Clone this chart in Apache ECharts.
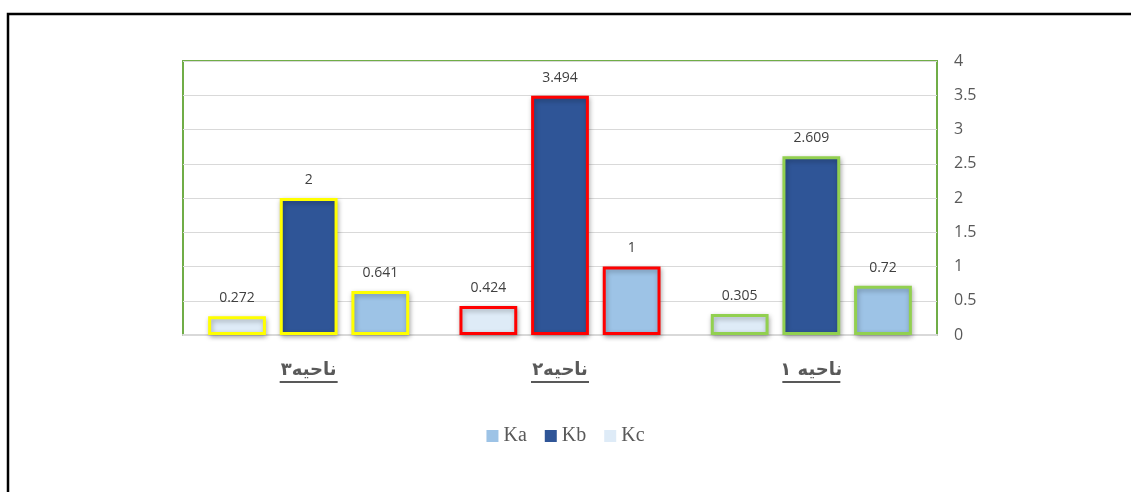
<!DOCTYPE html>
<html>
<head>
<meta charset="utf-8">
<script src="https://cdn.jsdelivr.net/npm/echarts@6/dist/echarts.min.js"></script>
<style>html,body{margin:0;padding:0;background:#fff}#c{width:1131px;height:492px}</style>
</head>
<body>
<div id="c"></div>
<script>
const categories = ['ناحیه ۱', 'ناحیه۲', 'ناحیه۳'];
const seriesNames = ['Ka', 'Kb', 'Kc'];
const kaValues = [0.72, 1, 0.641];
const kbValues = [2.609, 3.494, 2];
const kcValues = [0.305, 0.424, 0.272];
const yTicks = [0, 0.5, 1, 1.5, 2, 2.5, 3, 3.5, 4];

const seriesColors = { Ka: '#9DC3E6', Kb: '#2F5597', Kc: '#DEEBF7' };
const categoryBorders = ['#92D050', '#FF0000', '#FFFF00'];

const valuesByName = { Ka: kaValues, Kb: kbValues, Kc: kcValues };

function makeSeries(name) {
  return {
    name: name,
    type: 'bar',
    barGap: '24%',
    barCategoryGap: '20%',
    itemStyle: { color: seriesColors[name] },
    label: {
      show: true, position: 'top', distance: 11,
      color: '#404040', fontSize: 14, fontFamily: 'Open Sans'
    },
    data: valuesByName[name].map((v, i) => ({
      value: v,
      itemStyle: {
        color: seriesColors[name],
        borderColor: categoryBorders[i],
        borderWidth: 3,
        shadowBlur: 5,
        shadowColor: 'rgba(0,0,0,0.3)',
        shadowOffsetX: 1,
        shadowOffsetY: 2
      }
    }))
  };
}

const chart = echarts.init(document.getElementById('c'), null, { renderer: 'canvas' });
chart.setOption({
  animation: false,
  backgroundColor: '#fff',
  graphic: [{
    type: 'rect', z: 100,
    shape: { x: 8, y: 14, width: 1300, height: 700 },
    style: { fill: 'none', stroke: '#000', lineWidth: 2.5 }
  }],
  legend: {
    data: seriesNames,
    bottom: 41,
    left: 'center',
    itemWidth: 12, itemHeight: 12, itemGap: 18,
    icon: 'rect',
    textStyle: { fontFamily: 'Liberation Serif', fontSize: 20, color: '#595959' }
  },
  grid: {
    left: 183, right: 194, top: 61, bottom: 157,
    show: true, borderColor: '#70AD47', borderWidth: 2
  },
  xAxis: {
    type: 'category',
    data: categories,
    inverse: true,
    axisLine: { show: true, lineStyle: { color: '#D9D9D9', width: 2 } },
    axisTick: { show: false },
    axisLabel: {
      margin: 24,
      formatter: function (v) { return '{t|' + v + '}\n{u|}'; },
      rich: {
        t: { fontFamily: 'DejaVu Sans', fontWeight: 'bold', fontSize: 18, lineHeight: 22, color: '#595959', align: 'center' },
        u: { height: 2, width: 58, backgroundColor: '#595959', align: 'center' }
      }
    }
  },
  yAxis: {
    type: 'value',
    position: 'right',
    min: yTicks[0], max: yTicks[yTicks.length - 1], interval: 0.5,
    axisLine: { show: false },
    axisTick: { show: false },
    splitLine: { lineStyle: { color: '#D9D9D9', width: 1 } },
    axisLabel: { margin: 17, color: '#595959', fontSize: 16, fontFamily: 'Open Sans' }
  },
  series: ['Kc', 'Kb', 'Ka'].map(makeSeries)
});
</script>
</body>
</html>
